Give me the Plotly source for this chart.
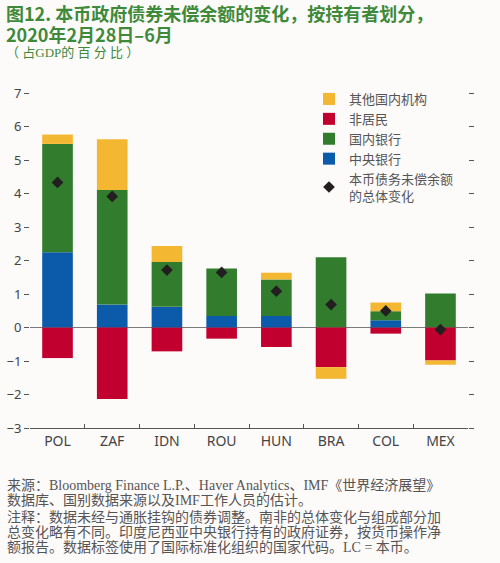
import plotly.graph_objects as go

countries = ["POL", "ZAF", "IDN", "ROU", "HUN", "BRA", "COL", "MEX"]
central_bank = [2.25, 0.69, 0.62, 0.35, 0.35, 0.0, 0.22, 0.0]
domestic_banks = [3.24, 3.42, 1.34, 1.42, 1.09, 2.10, 0.27, 1.02]
nonresidents = [-0.91, -2.13, -0.71, -0.33, -0.58, -1.18, -0.18, -0.98]
other_domestic = [0.28, 1.52, 0.48, 0.0, 0.20, -0.35, 0.26, -0.13]
total_change = [4.34, 3.92, 1.72, 1.65, 1.09, 0.69, 0.50, -0.06]

y_ticks = [-3, -2, -1, 0, 1, 2, 3, 4, 5, 6, 7]
y_tick_labels = ["−3", "−2", "−1", "0", "1", "2", "3", "4", "5", "6", "7"]

title_lines = ["图12. 本币政府债券未偿余额的变化，按持有者划分，", "2020年2月28日–6月"]
subtitle = "（ 占GDP的 百 分 比 ）"
notes = [
    "来源：Bloomberg Finance L.P.、Haver Analytics、IMF《世界经济展望》",
    "数据库、国别数据来源以及IMF工作人员的估计。",
    "注释：数据未经与通胀挂钩的债券调整。南非的总体变化与组成部分加",
    "总变化略有不同。印度尼西亚中央银行持有的政府证券，按货币操作净",
    "额报告。数据标签使用了国际标准化组织的国家代码。LC = 本币。",
]

YELLOW = "#F3B731"
RED = "#C20030"
GREEN = "#327C2E"
BLUE = "#0B5BAA"
BG = "#FDFAFA"
GREEN_TXT = "#3E8A3A"

PLOT_TOP, PLOT_BOTTOM, PLOT_LEFT, PLOT_RIGHT = 80, 428, 30, 468


def py(ypx):
    return (PLOT_BOTTOM - ypx) / (PLOT_BOTTOM - PLOT_TOP)


def px(xpx):
    return (xpx - PLOT_LEFT) / (PLOT_RIGHT - PLOT_LEFT)


fig = go.Figure()
fig.add_bar(x=countries, y=central_bank, name="中央银行", marker_color=BLUE, marker_line_width=0, legendrank=4)
fig.add_bar(x=countries, y=domestic_banks, name="国内银行", marker_color=GREEN, marker_line_width=0, legendrank=3)
fig.add_bar(x=countries, y=nonresidents, name="非居民", marker_color=RED, marker_line_width=0, legendrank=2)
fig.add_bar(x=countries, y=other_domestic, name="其他国内机构", marker_color=YELLOW, marker_line_width=0, legendrank=1)
fig.add_scatter(x=countries, y=total_change, mode="markers", name="本币债务未偿余额<br>的总体变化",
                marker=dict(symbol="diamond", size=9, color="#231F20"), legendrank=5)

fig.update_layout(
    width=500, height=563,
    barmode="relative", bargap=0.44,
    paper_bgcolor=BG, plot_bgcolor=BG,
    margin=dict(l=PLOT_LEFT, r=500 - PLOT_RIGHT, t=PLOT_TOP, b=563 - PLOT_BOTTOM),
    font=dict(family="Noto Sans, Noto Sans CJK SC", color="#444444", size=13),
    showlegend=True,
    legend=dict(x=px(309), y=py(84), xanchor="left", yanchor="top",
                bgcolor="rgba(0,0,0,0)", traceorder="normal",
                font=dict(size=13, color="#555555", family="Noto Sans CJK SC"),
                itemsizing="trace", tracegroupgap=0),
    xaxis=dict(showline=True, linecolor="#555555", linewidth=1,
               ticks="inside", ticklen=4, tickcolor="#555555", tickson="boundaries",
               tickfont=dict(size=14, color="#444444"), showgrid=False, fixedrange=True),
    yaxis=dict(range=[-3, 7.4], tickvals=y_ticks, ticktext=y_tick_labels,
               showline=False, ticks="outside", ticklen=5, tickcolor="#555555",
               mirror="ticks", showgrid=False, fixedrange=True,
               zeroline=True, zerolinecolor="#7A7A7A", zerolinewidth=1,
               tickfont=dict(size=13, color="#444444"), automargin=False),
)

for line, ypx in zip(title_lines, [13, 34]):
    fig.add_annotation(xref="paper", yref="paper", x=px(4), y=py(ypx), xanchor="left", yanchor="middle",
                       text="<b>" + line + "</b>", showarrow=False,
                       font=dict(size=18, color=GREEN_TXT, family="Noto Sans CJK SC"))
fig.add_annotation(xref="paper", yref="paper", x=px(4), y=py(53), xanchor="left", yanchor="middle",
                   text=subtitle, showarrow=False,
                   font=dict(size=13, color=GREEN_TXT, family="Liberation Serif, Noto Sans CJK SC"))

note_y = [485, 501, 517, 532, 547]
for line, ypx in zip(notes, note_y):
    fig.add_annotation(xref="paper", yref="paper", x=px(5), y=py(ypx),
                       xanchor="left", yanchor="middle", text=line, showarrow=False,
                       font=dict(size=14, color="#555555", family="Liberation Serif, Noto Sans CJK SC"))

fig.write_html("out.html", config={"displayModeBar": False},
               post_script="document.body.style.margin='0';")
